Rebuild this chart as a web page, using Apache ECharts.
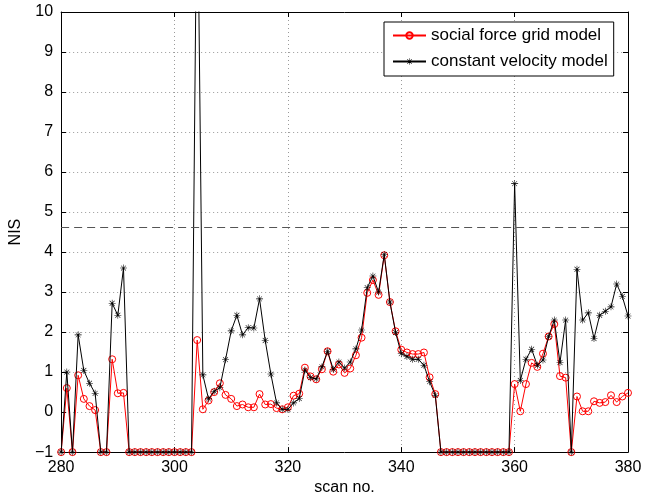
<!DOCTYPE html>
<html>
<head>
<meta charset="utf-8">
<script src="https://cdn.jsdelivr.net/npm/echarts@6/dist/echarts.min.js"></script>
<style>
html,body{margin:0;padding:0;background:#fff;}
#chart{width:658px;height:501px;}
</style>
</head>
<body>
<div id="chart"></div>
<script>
// scan numbers 280..380
const scans = [280,281,282,283,284,285,286,287,288,289,290,291,292,293,294,295,296,297,298,299,300,301,302,303,304,305,306,307,308,309,310,311,312,313,314,315,316,317,318,319,320,321,322,323,324,325,326,327,328,329,330,331,332,333,334,335,336,337,338,339,340,341,342,343,344,345,346,347,348,349,350,351,352,353,354,355,356,357,358,359,360,361,362,363,364,365,366,367,368,369,370,371,372,373,374,375,376,377,378,379,380];

const socialForce = [
  -1,0.6,-1,0.92,0.33,0.15,0.05,-1,-1,1.32,0.47,0.48,
  -1,-1,-1,-1,-1,-1,-1,-1,-1,-1,-1,-1,
  1.8,0.07,0.29,0.5,0.72,0.43,0.33,0.15,0.19,0.12,0.12,0.45,0.19,0.2,0.1,0.07,0.12,0.41,0.46,
  1.11,0.89,0.82,1.07,1.52,1.01,1.19,0.98,1.09,1.42,1.86,2.98,3.3,2.93,3.92,2.75,2.02,1.56,1.49,1.45,1.45,1.49,0.87,0.45,
  -1,-1,-1,-1,-1,-1,-1,-1,-1,-1,-1,-1,-1,
  0.7,0.02,0.7,1.23,1.13,1.46,1.89,2.2,0.9,0.86,-1,0.39,0.02,0.02,0.27,0.23,0.25,0.42,0.25,0.39,0.48
];

const constVelocity = [
  -1,1.0,-1,1.93,1.04,0.72,0.47,-1,-1,2.72,2.42,3.6,
  -1,-1,-1,-1,-1,-1,-1,-1,-1,-1,-1,-1,
  14,0.93,0.33,0.52,0.61,1.31,2.03,2.42,1.93,2.11,2.1,2.83,1.79,0.95,0.23,0.07,0.07,0.23,0.34,
  1.05,0.86,0.83,1.13,1.52,1.07,1.25,1.1,1.25,1.58,2.05,3.11,3.4,3.0,3.94,2.75,1.99,1.46,1.39,1.32,1.32,1.17,0.76,0.42,
  -1,-1,-1,-1,-1,-1,-1,-1,-1,-1,-1,-1,-1,
  5.71,0.79,1.32,1.57,1.17,1.3,1.89,2.3,1.24,2.3,-1,3.57,2.3,2.48,1.84,2.42,2.52,2.63,3.2,2.89,2.4
];

const threshold = 4.605;
const xTicks = {min: 280, max: 380, interval: 20};
const yTicks = {min: -1, max: 10, interval: 1};

const seriesNames = ['social force grid model', 'constant velocity model'];

const asterisk = 'path://M0 9.2L20 9.2L20 10.8L0 10.8Z M9.2 0L10.8 0L10.8 20L9.2 20Z M2.4 3.5L3.5 2.4L17.6 16.5L16.5 17.6Z M16.5 2.4L17.6 3.5L3.5 17.6L2.4 16.5Z';

const FONT = 'Liberation Sans, Arial, Helvetica, sans-serif';

const chart = echarts.init(document.getElementById('chart'), null, {renderer: 'canvas'});

function pairs(vals){ return scans.map((s,i)=>[s, vals[i]]); }

const tickStyle = {show: true, inside: true, length: 5, lineStyle: {color: '#000', width: 1}};
const gridLine = {show: true, lineStyle: {color: '#9a9a9a', type: [1, 3], width: 1}};

chart.setOption({
  animation: false,
  backgroundColor: '#fff',
  textStyle: {fontFamily: FONT},
  grid: {left: 60, right: 30, top: 12, bottom: 41, containLabel: false},
  legend: {
    orient: 'vertical',
    left: 384, top: 22,
    padding: [3, 6, 4, 8],
    itemGap: 5,
    itemWidth: 33, itemHeight: 8,
    borderColor: '#000', borderWidth: 1,
    backgroundColor: '#fff',
    textStyle: {fontSize: 17, lineHeight: 21, color: '#000', fontFamily: FONT},
    data: seriesNames
  },
  xAxis: [{
    type: 'value', min: xTicks.min, max: xTicks.max, interval: xTicks.interval,
    name: 'scan no.', nameLocation: 'middle', nameGap: 22,
    nameTextStyle: {fontSize: 16, color: '#000', fontFamily: FONT},
    axisLine: {show: true, onZero: false, lineStyle: {color: '#000', width: 1}},
    axisTick: tickStyle,
    axisLabel: {fontSize: 16, color: '#000', margin: 7, fontFamily: FONT},
    splitLine: gridLine
  }, {
    type: 'value', position: 'top', min: xTicks.min, max: xTicks.max, interval: xTicks.interval,
    axisLine: {show: true, onZero: false, lineStyle: {color: '#000', width: 1}},
    axisTick: tickStyle, axisLabel: {show: false}, splitLine: {show: false}
  }],
  yAxis: [{
    type: 'value', min: yTicks.min, max: yTicks.max, interval: yTicks.interval,
    name: 'NIS', nameLocation: 'middle', nameGap: 26, nameRotate: 90,
    nameTextStyle: {fontSize: 16, color: '#000', fontFamily: FONT},
    axisLine: {show: true, onZero: false, lineStyle: {color: '#000', width: 1}},
    axisTick: tickStyle,
    axisLabel: {fontSize: 16, color: '#000', margin: 8, fontFamily: FONT,
      formatter: v => String(v).replace('-', '\u2212')},
    splitLine: gridLine
  }, {
    type: 'value', position: 'right', min: yTicks.min, max: yTicks.max, interval: yTicks.interval,
    axisLine: {show: true, onZero: false, lineStyle: {color: '#000', width: 1}},
    axisTick: tickStyle, axisLabel: {show: false}, splitLine: {show: false}
  }],
  series: [{
    name: seriesNames[0],
    type: 'line',
    data: pairs(socialForce),
    symbol: 'circle', symbolSize: 7,
    showAllSymbol: true,
    clip: true,
    lineStyle: {color: '#ff0000', width: 1},
    itemStyle: {color: 'rgba(255,255,255,0)', borderColor: '#ff0000', borderWidth: 1},
    emphasis: {disabled: true},
    z: 2
  }, {
    name: seriesNames[1],
    type: 'line',
    data: pairs(constVelocity),
    symbol: asterisk, symbolSize: 7,
    showAllSymbol: true,
    clip: true,
    lineStyle: {color: '#000', width: 1},
    itemStyle: {color: '#000', borderWidth: 0},
    emphasis: {disabled: true},
    z: 3,
    markLine: {
      silent: true, symbol: ['none', 'none'],
      label: {show: false},
      lineStyle: {color: '#555', type: [8, 5], width: 1.2},
      data: [{yAxis: threshold}]
    }
  }]
});
</script>
</body>
</html>
